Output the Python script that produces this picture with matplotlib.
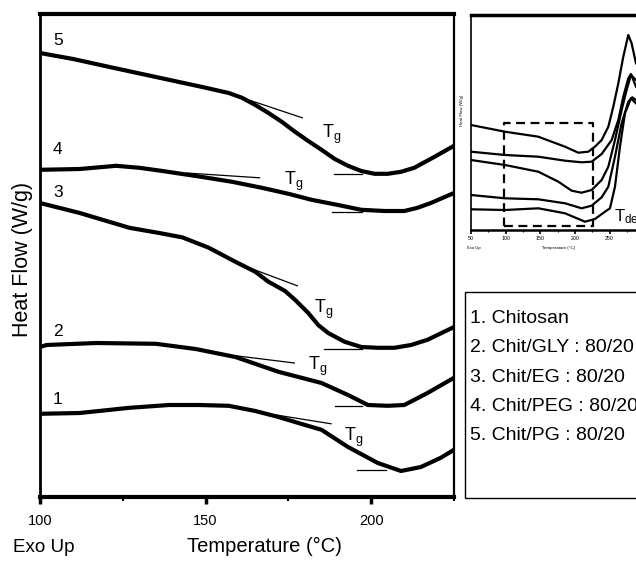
import matplotlib
matplotlib.use("Agg")
import matplotlib.pyplot as plt
from matplotlib.patches import Rectangle
from matplotlib.ticker import MultipleLocator

plt.rcParams['font.family'] = ['Liberation Sans', 'DejaVu Sans']
plt.rcParams['mathtext.default'] = 'regular'

# ---- DSC traces (heat flow, offset units) ----
T1 = [100, 112, 127, 139, 148, 157, 165, 172, 178, 185, 193, 202, 209, 215, 221, 225]
H1 = [2.08, 2.10, 2.23, 2.30, 2.30, 2.28, 2.15, 2.00, 1.85, 1.68, 1.25, 0.85, 0.65, 0.75, 0.98, 1.18]

T2 = [100, 102, 117, 135, 147, 159, 172, 185, 193, 199, 205, 210, 217, 225]
H2 = [3.75, 3.80, 3.85, 3.83, 3.70, 3.50, 3.13, 2.85, 2.55, 2.30, 2.28, 2.30, 2.60, 2.98]

T3 = [100, 112, 127, 136, 143, 151, 159, 165, 169, 174, 177, 181, 184, 187, 192, 197, 202, 207, 212, 217, 225]
H3 = [7.35, 7.10, 6.73, 6.60, 6.49, 6.23, 5.88, 5.63, 5.38, 5.15, 4.93, 4.60, 4.30, 4.10, 3.88, 3.75, 3.73, 3.73, 3.80, 3.93, 4.25]

T4 = [100, 112, 123, 130, 137, 149, 158, 167, 175, 182, 190, 197, 204, 210, 214, 218, 225]
H4 = [8.18, 8.20, 8.28, 8.23, 8.15, 8.00, 7.88, 7.73, 7.58, 7.43, 7.30, 7.18, 7.15, 7.15, 7.23, 7.35, 7.60]

T5 = [100, 110, 121, 135, 149, 157, 161, 165, 169, 173, 177, 181, 185, 189, 193, 197, 201, 205, 209, 213, 219, 225]
H5 = [11.10, 10.95, 10.75, 10.50, 10.25, 10.10, 9.98, 9.80, 9.60, 9.38, 9.13, 8.90, 8.68, 8.45, 8.28, 8.15, 8.08, 8.08, 8.13, 8.23, 8.50, 8.78]

curves_T = [T1, T2, T3, T4, T5]
curves_H = [H1, H2, H3, H4, H5]
curve_ids = ["1", "2", "3", "4", "5"]

# Tangent construction lines for Tg: (T start, H start, T end, H end)
tangents = [
    (171.4, 2.05, 187.9, 1.83),
    (159.3, 3.53, 176.8, 3.35),
    (159.3, 5.85, 177.7, 5.28),
    (144.3, 8.10, 166.3, 7.98),
    (161.1, 9.98, 179.2, 9.48),
]
# Post-transition baselines: (T start, T end, H)
baselines = [
    (195.8, 204.5, 0.68),
    (189.2, 197.3, 2.28),
    (185.8, 197.3, 3.70),
    (188.3, 197.3, 7.13),
    (188.9, 197.3, 8.08),
]
tg_pos = [(191.9, 1.40), (181.0, 3.18), (182.8, 4.60), (173.8, 7.80), (185.2, 8.98)]
id_pos = [(103.9, 2.33), (103.9, 4.03), (103.9, 7.50), (103.9, 8.58), (103.9, 11.30)]

# ---- Inset: full-range scans ----
iT_a = [50, 99, 147.1, 185.6, 204.8, 219.2, 228.8, 238.5, 248.1, 255.3, 262.5, 269.7, 276.9, 281.7, 288]
iV_a = [10.5, 9.83, 9.33, 8.33, 7.73, 7.83, 8.33, 9.0, 10.33, 12.33, 14.67, 17.33, 19.5, 18.67, 16.67]
iT_b = [50, 99, 147.1, 185.6, 209.6, 224.0, 238.5, 252.9, 262.5, 269.7, 276.9, 280.8, 288]
iV_b = [7.83, 7.5, 7.33, 6.93, 6.77, 6.83, 7.6, 9.0, 11.0, 13.33, 15.17, 15.6, 14.33]
iT_c = [50, 99, 147.1, 176, 195.2, 209.6, 224, 238.5, 248.1, 257.7, 267.3, 274.5, 280.8, 288]
iV_c = [7.0, 6.5, 5.83, 4.83, 3.93, 3.73, 4.0, 5.0, 6.33, 9.0, 12.0, 14.0, 15.5, 15.0]
iT_d = [50, 99, 147.1, 185.6, 209.6, 224, 238.5, 248.1, 257.7, 267.3, 276.9, 282.7, 288]
iV_d = [3.5, 3.17, 3.07, 2.67, 2.17, 2.43, 3.27, 4.33, 7.33, 10.67, 12.83, 13.27, 13.0]
iT_e = [50, 99, 147.1, 185.6, 214.4, 228.8, 243.3, 250.5, 257.7, 264.9, 272.1, 280.8, 288]
iV_e = [2.07, 2.0, 2.17, 1.67, 0.83, 1.1, 1.83, 2.17, 4.33, 8.33, 11.67, 13.17, 12.67]
inset_T = [iT_a, iT_b, iT_c, iT_d, iT_e]
inset_V = [iV_a, iV_b, iV_c, iV_d, iV_e]
zoom_box = (98.1, 0.4, 226.5, 10.67)  # T0, V0, T1, V1

legend_labels = ["1. Chitosan", "2. Chit/GLY : 80/20", "3. Chit/EG : 80/20",
                 "4. Chit/PEG : 80/20", "5. Chit/PG : 80/20"]

W, H = 636, 564
fig = plt.figure(figsize=(W / 100, H / 100), dpi=100)


def fx(x):
    return x / W


def fy(y):
    return 1 - y / H


# ---- main axes ----
ax = fig.add_axes([fx(40), fy(497), (454 - 40) / W, (497 - 14) / H])
ax.set_xlim(100, 225)
ax.set_ylim(0, 12.075)
for T, Hf in zip(curves_T, curves_H):
    ax.plot(T, Hf, color='black', lw=3.0, solid_capstyle='butt', solid_joinstyle='round')
for (t0, h0, t1, h1) in tangents:
    ax.plot([t0, t1], [h0, h1], color='black', lw=0.9)
for (t0, t1, h) in baselines:
    ax.plot([t0, t1], [h, h], color='black', lw=0.9)
for (t, h) in tg_pos:
    ax.text(t, h, r'$T_g$', fontsize=13, ha='left', va='baseline')
for cid, (t, h) in zip(curve_ids, id_pos):
    ax.text(t, h, cid, fontsize=12.5, ha='left', va='baseline')

ax.spines['top'].set_linewidth(3.0)
ax.spines['bottom'].set_linewidth(3.0)
ax.spines['left'].set_linewidth(2.0)
ax.spines['right'].set_linewidth(1.6)
ax.set_yticks([])
ax.xaxis.set_major_locator(MultipleLocator(50))
ax.xaxis.set_minor_locator(MultipleLocator(25))
ax.tick_params(axis='x', which='major', direction='out', length=5, width=2.5,
               pad=7.5, labelsize=10.5)
ax.tick_params(axis='x', which='minor', direction='out', length=3, width=1.5)

fig.text(fx(264), fy(552), 'Temperature (°C)', fontsize=14.5, ha='center', va='baseline')
fig.text(fx(13), fy(552), 'Exo Up', fontsize=13.5, ha='left', va='baseline')
fig.text(fx(23), fy(259), 'Heat Flow (W/g)', fontsize=15.5, rotation=90,
         ha='center', va='center')

# ---- inset ----
ia = fig.add_axes([fx(471), fy(230), 173.3 / W, (230 - 15) / H])
ia.set_xlim(50, 300)
ia.set_ylim(0, 21.5)
for T, V in zip(inset_T, inset_V):
    ia.plot(T, V, color='black', lw=1.6, solid_joinstyle='round')
t0, v0, t1, v1 = zoom_box
ia.plot([t0, t1, t1, t0, t0], [v0, v0, v1, v1, v0], color='black', lw=1.6,
        linestyle=(0, (4, 2.5)))
ia.text(256, 0.9, r'$T_{dec}$', fontsize=12, ha='left', va='baseline')
ia.spines['top'].set_linewidth(2.5)
ia.spines['bottom'].set_linewidth(1.8)
ia.spines['left'].set_linewidth(1.2)
ia.spines['right'].set_visible(False)
ia.set_yticks([])
ia.xaxis.set_major_locator(MultipleLocator(50))
ia.xaxis.set_minor_locator(MultipleLocator(25))
ia.tick_params(axis='x', which='major', direction='out', length=3, width=1.2,
               pad=1.5, labelsize=3.8)
ia.tick_params(axis='x', which='minor', direction='out', length=1.5, width=0.8)
fig.text(fx(559), fy(249), 'Temperature (°C)', fontsize=3.2, ha='center', va='baseline')
fig.text(fx(467), fy(249), 'Exo Up', fontsize=3.0, ha='left', va='baseline')
fig.text(fx(462), fy(110), 'Heat Flow (W/g)', fontsize=3.2, rotation=90,
         ha='center', va='center')

# ---- legend box ----
fig.patches.append(Rectangle((fx(465), fy(498)), 200 / W, (498 - 292) / H,
                             transform=fig.transFigure, fill=False,
                             edgecolor='black', lw=1.0))
for i, lab in enumerate(legend_labels):
    fig.text(fx(470), fy(323 + 29.3 * i), lab, fontsize=14, ha='left', va='baseline')

fig.savefig('out.png', dpi=100)
